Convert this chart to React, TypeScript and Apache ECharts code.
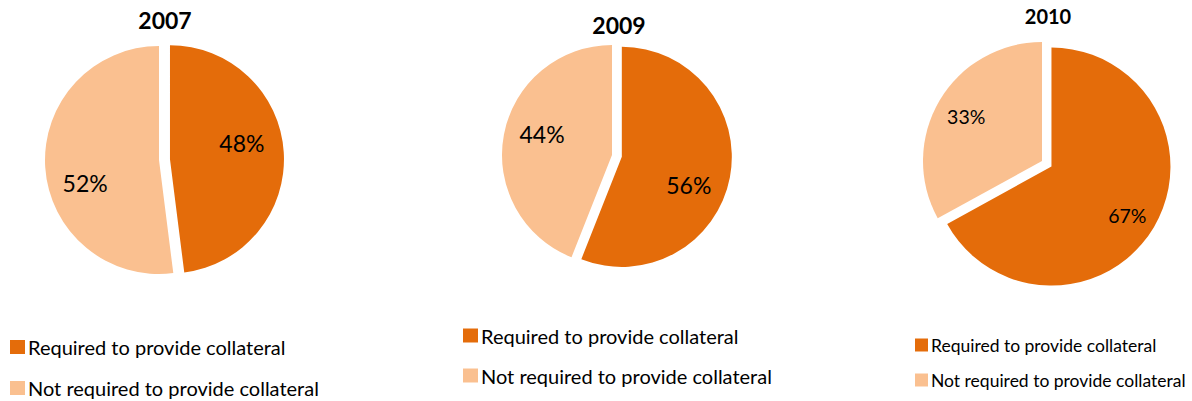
import React, { useEffect, useRef } from "react";
import * as echarts from "echarts";

const years = ["2007", "2009", "2010"];
const categories = ["Required to provide collateral", "Not required to provide collateral"];
const requiredShare = [48, 56, 67];
const notRequiredShare = [52, 44, 33];

const ORANGE = "#E46C0A";
const LIGHT = "#FAC090";
const FONT = "Lato";

// layout per panel (positions / sizes / styles only)
const panels = [
  { center: [159, 160], radius: 114, offset: 11, titleX: 165, titleY: 20, titleSize: 23, labelSize: 23,
    labelShift: [[12, -13], [-14, 19]],
    legend: { left: 10, top: 336, itemW: 15, itemH: 14, font: 20, lh: 22, gap: 19 } },
  { center: [612, 155], radius: 110, offset: 10, titleX: 619, titleY: 25, titleSize: 23, labelSize: 23,
    labelShift: [[10, 17], [-13, -10]],
    legend: { left: 463, top: 324.5, itemW: 15, itemH: 14, font: 20, lh: 22, gap: 18 } },
  { center: [1042, 161], radius: 119, offset: 11, titleX: 1048, titleY: 16, titleSize: 20, labelSize: 19.5,
    labelShift: [[22, 17], [-22, -13]],
    legend: { left: 915, top: 335.5, itemW: 13, itemH: 13, font: 17.5, lh: 19, gap: 16 } },
];

export default function App() {
  const ref = useRef<HTMLDivElement>(null);
  useEffect(() => {
    if (!ref.current) return;
    const chart = echarts.init(ref.current, null, { renderer: "svg" });
    const option: any = {
      animation: false,
      backgroundColor: "#ffffff",
      title: years.map((y, i) => ({
        text: y,
        left: panels[i].titleX,
        top: panels[i].titleY,
        textAlign: "center",
        textVerticalAlign: "middle",
        padding: 0,
        textStyle: { fontFamily: FONT, fontWeight: "bold", fontSize: panels[i].titleSize, color: "#000" },
      })),
      legend: panels.map((p) => ({
        orient: "vertical",
        left: p.legend.left,
        top: p.legend.top,
        padding: 0,
        itemWidth: p.legend.itemW,
        itemHeight: p.legend.itemH,
        itemGap: p.legend.gap,
        icon: "rect",
        selectedMode: false,
        data: categories,
        textStyle: { fontFamily: FONT, fontSize: p.legend.font, lineHeight: p.legend.lh, color: "#000", padding: [0, 0, 0, -2] },
      })),
      series: years.map((y, i) => {
        const p = panels[i];
        return {
          type: "pie",
          name: y,
          center: p.center,
          radius: p.radius,
          startAngle: 90,
          clockwise: true,
          selectedMode: "multiple",
          selectedOffset: p.offset,
          avoidLabelOverlap: false,
          emphasis: { disabled: true },
          label: {
            show: true,
            position: "inside",
            formatter: (prm: any) => prm.value + "%",
            fontFamily: FONT,
            fontSize: p.labelSize,
            color: "#000",
          },
          labelLine: { show: false },
          labelLayout: (prm: any) => ({ dx: p.labelShift[prm.dataIndex][0], dy: p.labelShift[prm.dataIndex][1] }),
          data: [
            { name: categories[0], value: requiredShare[i], selected: true, itemStyle: { color: ORANGE },
              select: { itemStyle: { color: ORANGE, borderWidth: 0 } } },
            { name: categories[1], value: notRequiredShare[i], itemStyle: { color: LIGHT } },
          ],
        };
      }),
    };
    chart.setOption(option);
    return () => chart.dispose();
  }, []);
  return (
    <div
      ref={ref}
      style={{ position: "absolute", left: 0, top: 0, width: 1192, height: 401 }}
    />
  );
}
